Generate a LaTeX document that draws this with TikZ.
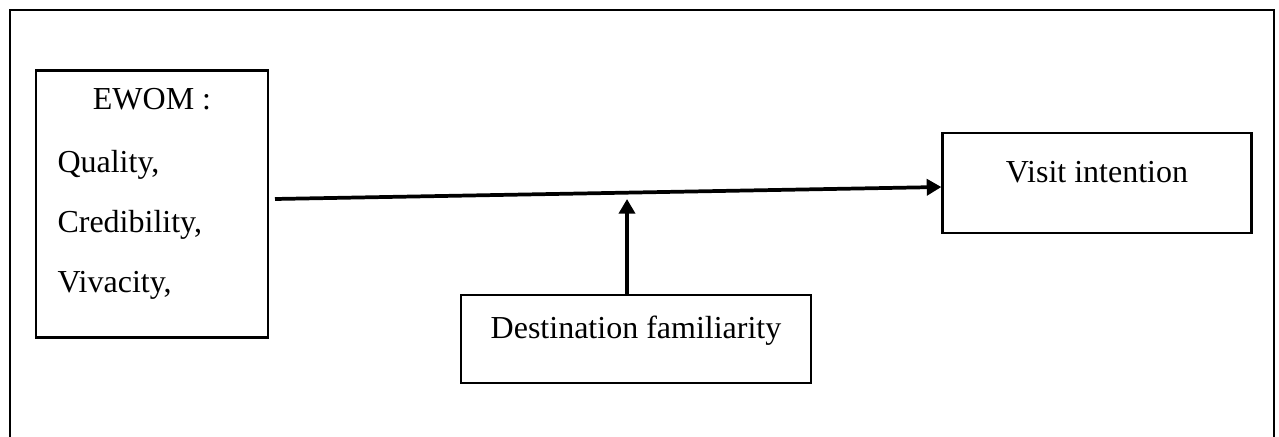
\documentclass[tikz,border=0pt]{standalone}
\usepackage{fontspec}
\setmainfont{Liberation Serif}
\usepackage{tikz}
\usetikzlibrary{positioning, arrows.meta, calc}
\tikzset{box/.style = {draw, line width=0.8pt, inner sep=0pt},
         txt/.style = {inner sep=0pt, font=\fontsize{12}{14}\selectfont},
         arr/.style = {line width=1.4pt, -{Triangle[length=5.5pt,width=6pt]}}}

\begin{document}
\begin{tikzpicture}[x=0.375pt, y=-0.375pt]
                    \useasboundingbox (0,0) rectangle (1279,437);
                    % open frame round the model
                    \draw[line width=1pt] (10,437) -- (10,10) -- (1274,10) -- (1274,437);
                    \node[box, minimum width=87pt, minimum height=100.1pt] (ewom) at (152,204) {};
                    \node[box, minimum width=115.9pt, minimum height=37.5pt] (visit) at (1097,183) {};
                    \node[box, minimum width=131.25pt, minimum height=33pt] (dest) at (636,339) {};
                    \node[txt, anchor=base] (ewomT) at (152,110) {EWOM :};
                    \node[txt, anchor=base west] (q) at (57,173) {Quality,};
                    \node[txt, anchor=base west] (c) at (57,233) {Credibility,};
                    \node[txt, anchor=base west] (v) at (57,293) {Vivacity,};
                    \node[txt, anchor=base] (visitT) at (1097,183) {Visit intention};
                    \node[txt, anchor=base] (destT) at (636,339) {Destination familiarity};
                    \coordinate (src) at (275,199);
                    \coordinate (mod) at (627,199);
                    \draw[arr] (src) -- ($(visit.west)+(0,4)$);
                    \draw[arr] (dest.north -| mod) -- (mod);
                \end{tikzpicture}
\end{document}
